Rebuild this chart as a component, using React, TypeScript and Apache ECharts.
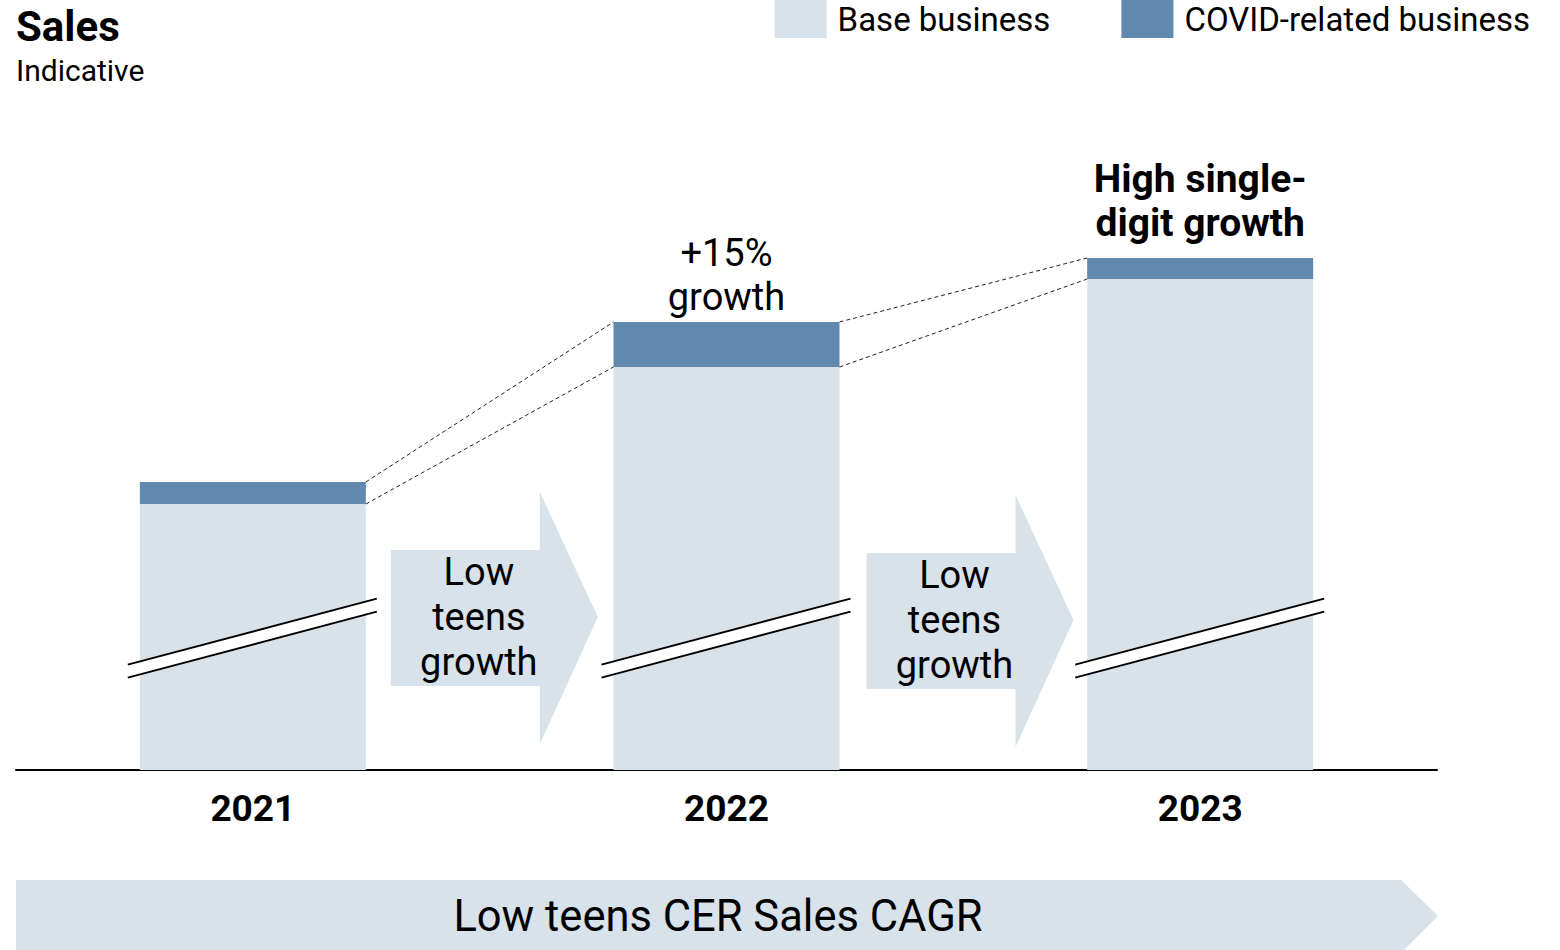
import React, { useEffect, useRef } from "react";
import * as echarts from "echarts";

const years = ["2021", "2022", "2023"];
const seriesNames = ["Base business", "COVID-related business"];
const baseBusiness = [266, 403, 491];
const covidBusiness = [22, 45, 21];
const topNotes = ["", "+15%\ngrowth", "High single-\ndigit growth"];
const topNoteBold = [false, false, true];
const gapNotes = ["Low\nteens\ngrowth", "Low\nteens\ngrowth"];
const breakLevel = [132, 132, 132];
const footerNote = "Low teens CER Sales CAGR";
const titleText = "Sales";
const subtitleText = "Indicative";

const BASE = "#d7e2eb";
const COVID = "#6189b0";
const FONT = "Roboto, 'Noto Sans', sans-serif";
const BAR_W = 226;
const H = BAR_W / 2;

export default function App() {
  const ref = useRef<HTMLDivElement>(null);

  useEffect(() => {
    document.body.style.margin = "0";
    if (!ref.current) return;
    const chart = echarts.init(ref.current, undefined, { renderer: "svg" });

    const connectorData = years.slice(0, -1).map((_, i) => [
      i,
      baseBusiness[i],
      baseBusiness[i] + covidBusiness[i],
      baseBusiness[i + 1],
      baseBusiness[i + 1] + covidBusiness[i + 1],
    ]);
    const breakData = years.map((_, i) => [i, breakLevel[i]]);
    const gapData = gapNotes.map((t, i) => [i, 0]);

    const option: any = {
      animation: false,
      textStyle: { fontFamily: FONT },
      title: {
        text: titleText,
        subtext: subtitleText,
        left: 16,
        top: 6,
        padding: 0,
        itemGap: 7,
        textStyle: { fontSize: 42, fontWeight: "bold", color: "#000", fontFamily: FONT, lineHeight: 40 },
        subtextStyle: { fontSize: 30, color: "#000", fontFamily: FONT, lineHeight: 30 },
      },
      legend: {
        data: seriesNames,
        top: 0,
        right: 30,
        padding: 0,
        itemWidth: 52,
        itemHeight: 38,
        itemGap: 71,
        icon: "rect",
        selectedMode: false,
        textStyle: { fontSize: 33, color: "#000", fontFamily: FONT, padding: [0, 0, 0, 6] },
      },
      grid: { left: 16, right: 123, top: 100, bottom: 180, containLabel: false },
      xAxis: {
        type: "category",
        data: years,
        axisLine: { lineStyle: { color: "#000", width: 2 } },
        axisTick: { show: false },
        axisLabel: { fontSize: 37, fontWeight: "bold", color: "#000", fontFamily: FONT, margin: 20, lineHeight: 36 },
      },
      yAxis: { type: "value", min: 0, max: 670, show: false },
      series: [
        {
          name: seriesNames[0],
          type: "bar",
          stack: "total",
          barWidth: BAR_W,
          itemStyle: { color: BASE },
          data: baseBusiness,
          z: 2,
        },
        {
          name: seriesNames[1],
          type: "bar",
          stack: "total",
          barWidth: BAR_W,
          itemStyle: { color: COVID },
          z: 2,
          data: covidBusiness.map((v, i) => ({
            value: v,
            label: {
              show: topNotes[i] !== "",
              position: "top",
              formatter: topNotes[i],
              distance: topNoteBold[i] ? 13 : 3,
              fontSize: topNoteBold[i] ? 39 : 38,
              lineHeight: 44,
              fontWeight: topNoteBold[i] ? "bold" : "normal",
              color: "#000",
              fontFamily: FONT,
              align: "center",
            },
          })),
        },
        {
          type: "custom",
          z: 3,
          silent: true,
          data: connectorData,
          renderItem: (params: any, api: any) => {
            const i = api.value(0);
            const a0 = api.coord([i, api.value(1)]);
            const a1 = api.coord([i, api.value(2)]);
            const b0 = api.coord([i + 1, api.value(3)]);
            const b1 = api.coord([i + 1, api.value(4)]);
            const style = { stroke: "#222", lineWidth: 1, lineDash: [4, 3], fill: null };
            return {
              type: "group",
              children: [
                { type: "line", shape: { x1: a1[0] + H, y1: a1[1], x2: b1[0] - H, y2: b1[1] }, style },
                { type: "line", shape: { x1: a0[0] + H, y1: a0[1], x2: b0[0] - H, y2: b0[1] }, style },
              ],
            };
          },
        },
        {
          type: "custom",
          z: 4,
          silent: true,
          data: breakData,
          renderItem: (params: any, api: any) => {
            const c = api.coord([api.value(0), api.value(1)]);
            const slope = 66 / 249;
            const xl = c[0] - H - 12;
            const xr = c[0] + H + 11;
            const yAt = (x: number, off: number) => c[1] + off - slope * (x - c[0]);
            const ls = { stroke: "#000", lineWidth: 2, fill: null };
            return {
              type: "group",
              children: [
                {
                  type: "polygon",
                  shape: { points: [[xl, yAt(xl, -6.5)], [xr, yAt(xr, -6.5)], [xr, yAt(xr, 6.5)], [xl, yAt(xl, 6.5)]] },
                  style: { fill: "#fff", stroke: null },
                },
                { type: "line", shape: { x1: xl, y1: yAt(xl, -6.5), x2: xr, y2: yAt(xr, -6.5) }, style: ls },
                { type: "line", shape: { x1: xl, y1: yAt(xl, 6.5), x2: xr, y2: yAt(xr, 6.5) }, style: ls },
              ],
            };
          },
        },
        {
          type: "custom",
          z: 3,
          silent: true,
          data: gapData,
          renderItem: (params: any, api: any) => {
            const i = api.value(0);
            const a = api.coord([i, 0]);
            const left = a[0] + H + 25 + params.dataIndex * 2;
            const y0 = a[1] + params.dataIndex * 3;
            return {
              type: "group",
              children: [
                {
                  type: "polygon",
                  shape: {
                    points: [
                      [left, y0 - 220],
                      [left + 149, y0 - 220],
                      [left + 149, y0 - 278],
                      [left + 207, y0 - 153],
                      [left + 149, y0 - 26],
                      [left + 149, y0 - 84],
                      [left, y0 - 84],
                    ],
                  },
                  style: { fill: BASE },
                },
                {
                  type: "text",
                  x: left + 88,
                  y: y0 - 153,
                  style: {
                    text: gapNotes[params.dataIndex],
                    fontSize: 38,
                    lineHeight: 45,
                    fontFamily: FONT,
                    fill: "#000",
                    align: "center",
                    verticalAlign: "middle",
                  },
                },
              ],
            };
          },
        },
      ],
      graphic: [
        {
          type: "polygon",
          shape: { points: [[16, 880], [1401, 880], [1438, 916], [1402, 952], [16, 952]] },
          style: { fill: BASE },
        },
        {
          type: "text",
          x: 718,
          y: 916,
          style: {
            text: footerNote,
            fontSize: 43.5,
            fontFamily: FONT,
            fill: "#000",
            align: "center",
            verticalAlign: "middle",
          },
        },
      ],
    };

    chart.setOption(option);
    return () => chart.dispose();
  }, []);

  return <div ref={ref} style={{ width: 1560, height: 950 }} />;
}
